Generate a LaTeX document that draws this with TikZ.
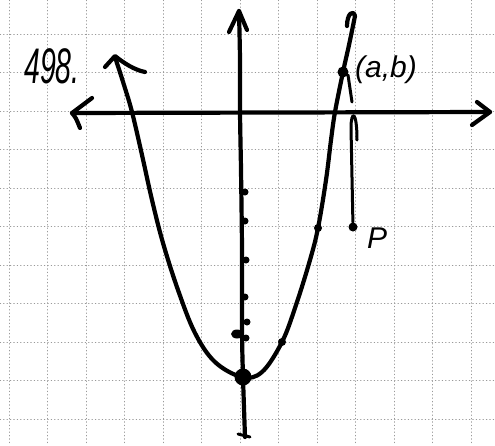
\documentclass[tikz,border=0pt]{standalone}
\usepackage{graphicx}
\usepackage{fontspec}
\setmainfont{Liberation Sans}
\begin{document}
\begin{tikzpicture}[x=1pt,y=-1pt, line cap=round, line join=round,
  gridline/.style={draw=black!40, line width=0.5pt, dash pattern=on 0.8pt off 2.6pt},
  pen/.style={draw=black, line width=4.2pt},
  thinpen/.style={draw=black, line width=3pt},
  blob/.style={circle, fill=black, inner sep=0pt, minimum size=#1},
  lab/.style={font=\itshape, inner sep=0pt, anchor=center}]
\useasboundingbox (0,0) rectangle (495,445);
% grid
\foreach \i in {0,...,12} \draw[gridline] ({9+38.5*\i},0) -- ({9+38.5*\i},445);
\foreach \j in {0,...,10} \draw[gridline] (0,{34+38.5*\j}) -- (495,{34+38.5*\j});
% x-axis
\coordinate (xl) at (72,113);
\coordinate (xr) at (490,112);
\draw[pen] (xl) -- (xr);
\draw[pen] (92,98) -- (xl) .. controls (76,118) .. (80,128);
\draw[pen] (477,102) -- (xr) -- (472,125);
% y-axis
\coordinate (yt) at (239,11);
\coordinate (yb) at (245,437);
\draw[pen] plot[smooth] coordinates {(yt) (240,60) (240,112) (241,170) (242,250) (242,330) (243,377) (yb)};
\draw[pen] (229,32) -- (yt) -- (247,30);
\draw[thinpen] (238,434) -- (250,437);
% ticks on y-axis
\foreach \p in {(245,192),(245,221),(246,260),(245,297),(247,322),(246,338)}
  \node[blob=7pt] at \p {};
\fill (237,334) ellipse (6pt and 4.5pt);
% parabola
\draw[pen] plot[smooth, tension=0.6] coordinates {(115,57) (124,85) (132,112) (142,155) (152,200) (163,243) (178,290) (195,333) (215,362) (242,377) (262,372) (282,342) (296,305) (310,260) (318,228) (326,180) (331,140) (335,112) (343,72) (349,45) (355,16)};
\draw[pen] (355,16) .. controls (353,9) and (347,14) .. (347,26);
\draw[pen] (105,67) -- (115,56) .. controls (125,64) and (135,70) .. (145,72);
% points
\node[blob=17pt] (v) at (243,377) {};
\node[blob=8pt] (q1) at (282,342) {};
\node[blob=8pt] (q2) at (318,228) {};
\node[blob=11pt] (ab) at (343,72) {};
\node[blob=9pt] (p) at (353,227) {};
\coordinate (ptop) at (351,128);
\draw[thinpen] (ab) ++(5,3) -- (352,102);
\draw[thinpen] (p) -- (ptop) .. controls (351,110) and (357,110) .. (357,140);
% labels
\node[lab, font=\itshape\fontsize{30}{30}\selectfont] (lab) at (386,70) {(a,b)};
\node[lab, font=\itshape\fontsize{30}{30}\selectfont] (lp) at (377,238) {P};
\node[lab, font=\itshape\fontsize{50}{50}\selectfont] (num) at (52,66) {\scalebox{0.57}[1]{498.}};
\end{tikzpicture}
\end{document}
